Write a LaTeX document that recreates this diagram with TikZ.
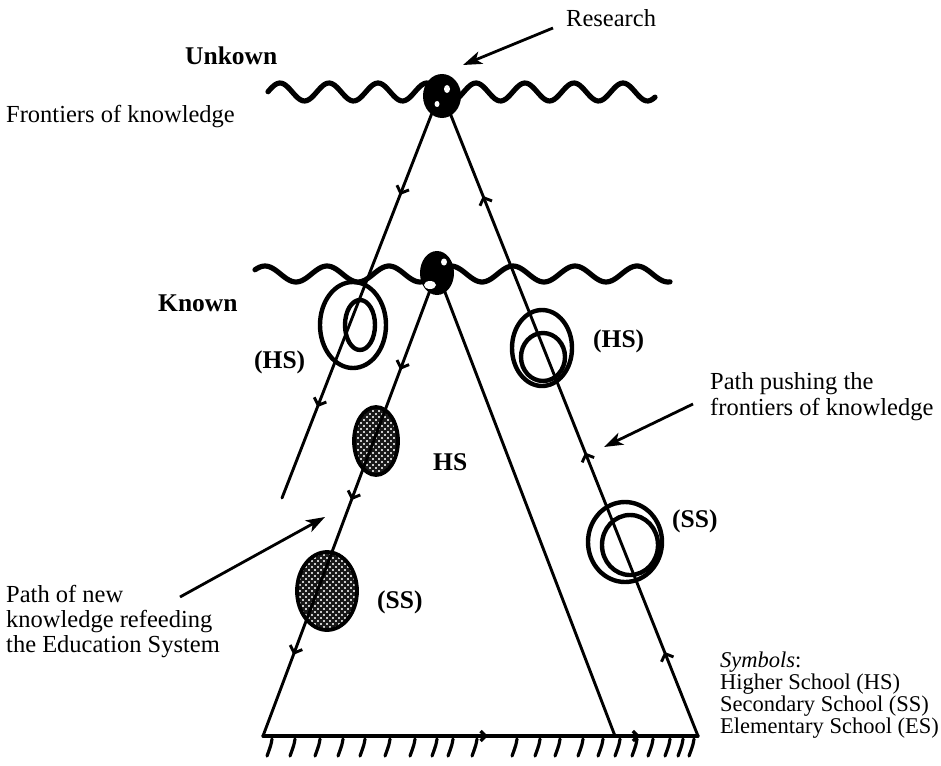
\documentclass[tikz,border=0pt]{standalone}
\usepackage{fontspec}
\setmainfont{Liberation Serif}
\usetikzlibrary{arrows.meta,decorations.markings}

\tikzset{
  lbl/.style={anchor=base west, inner sep=0pt, font=\fontsize{24.5}{24.5}\selectfont},
  slbl/.style={anchor=base west, inner sep=0pt, font=\fontsize{22.5}{22.5}\selectfont},
  blbl/.style={anchor=base west, inner sep=0pt, font=\fontsize{25.5}{25.5}\selectfont\bfseries},
  pathline/.style={line width=2.9pt, line cap=round},
  wave/.style={line width=5.2pt, line cap=round, line join=round},
  ring/.style={line width=4.4pt},
  callout/.style={line width=2.8pt, -{Stealth[length=19pt,width=13pt,inset=5pt]}},
  hatchstroke/.style={line width=3.2pt, line cap=round},
}

\newcommand\meshell[4]{%
  \begin{scope}
    \clip (#1,#2) ellipse [x radius=#3, y radius=#4];
    \fill[white] (#1,#2) ellipse [x radius=#3, y radius=#4];
    \foreach \k in {-102,-96,...,102} {
      \draw[black!90, line width=2.3pt] ({#1+\k-60},{#2-60}) -- ++(120,120);
      \draw[black!90, line width=2.3pt] ({#1+\k-60},{#2+60}) -- ++(120,-120);
    }
  \end{scope}
  \draw[line width=3.8pt] (#1,#2) ellipse [x radius=#3, y radius=#4];
}

\begin{document}
\begin{tikzpicture}[x=1pt,y=-1pt]
\useasboundingbox (0,0) rectangle (941,765);

% named points
\coordinate (R) at (442,96);
\coordinate (K) at (437,273);
\coordinate (olTop) at (432,113);
\coordinate (olEnd) at (282,498);
\coordinate (ilTop) at (432,285);
\coordinate (BL) at (263,736);
\coordinate (orTop) at (450,113);
\coordinate (BR) at (698,736);
\coordinate (irTop) at (443,287);
\coordinate (BM) at (615,736);

% wavy frontier lines
\draw[wave] plot[domain=268:655, samples=170] (\x, {92 - 9*sin((\x-280)/49*360 + 90)});
\draw[wave] plot[domain=255:670, samples=170] (\x, {274 - 8*sin((\x-265)/62*360 + 90)});

% hatched ellipses (Higher / Secondary school on the refeeding path)
\meshell{376}{441}{22}{34}
\meshell{327}{591}{30}{39}

% outer left path (downwards)
\draw[pathline, postaction={decorate}, decoration={markings,
    mark=at position 0.213 with {\arrow{Straight Barb[length=6pt,width=13pt]}},
    mark=at position 0.764 with {\arrow{Straight Barb[length=6pt,width=13pt]}}}]
  (olTop) -- (olEnd);
% inner left path (downwards)
\draw[pathline, postaction={decorate}, decoration={markings,
    mark=at position 0.188 with {\arrow{Straight Barb[length=6pt,width=13pt]}},
    mark=at position 0.477 with {\arrow{Straight Barb[length=6pt,width=13pt]}},
    mark=at position 0.82 with {\arrow{Straight Barb[length=6pt,width=13pt]}}}]
  (ilTop) -- (BL);
% outer right path (upwards)
\draw[pathline, postaction={decorate}, decoration={markings,
    mark=at position 0.135 with {\arrow{Straight Barb[length=6pt,width=13pt]}},
    mark=at position 0.455 with {\arrow{Straight Barb[length=6pt,width=13pt]}},
    mark=at position 0.867 with {\arrow{Straight Barb[length=6pt,width=13pt]}}}]
  (BR) -- (orTop);
% inner right side
\draw[pathline] (irTop) -- (BM);
% base
\draw[line width=3.3pt, line cap=round, postaction={decorate}, decoration={markings,
    mark=at position 0.517 with {\arrow{Straight Barb[length=5pt,width=10pt]}},
    mark=at position 0.867 with {\arrow{Straight Barb[length=5pt,width=10pt]}}}]
  (BL) -- (BR);
% ground hatching
\foreach \hx in {272,295,320,343,365,390,415,437,453,477,517,540,560,583,603,620,637,653,670,683,694}
  \draw[hatchstroke] (\hx,739) .. controls (\hx-1,745) .. (\hx-5,756);

% double rings (open circles)
\draw[ring] (353,325) ellipse [x radius=33, y radius=43];
\draw[ring] (360,325) ellipse [x radius=15, y radius=25];
\draw[ring] (542,348) ellipse [x radius=30, y radius=38];
\draw[ring] (543,357) ellipse [x radius=22, y radius=24];
\draw[ring] (625,542) ellipse [x radius=37, y radius=40];
\draw[ring] (630,545) ellipse [x radius=28, y radius=30];

% research spot and known spot
\fill (R) ellipse [x radius=19, y radius=22];
\fill[white] (447,89) ellipse [x radius=3, y radius=4];
\fill[white] (437,104) ellipse [x radius=2.5, y radius=3];
\fill (K) ellipse [x radius=17, y radius=22];
\fill[white] (444,262) ellipse [x radius=3, y radius=3.5];
\fill[white] (430,285) ellipse [x radius=6, y radius=4];

% labels
\node[lbl]  (tRes)  at (566,27)  {Research};
\node[blbl] (tUnk)  at (185,65)  {Unkown};
\node[lbl]  (tFro)  at (6,122)   {Frontiers of knowledge};
\node[blbl] (tKno)  at (158,311) {Known};
\node[blbl] (tHS1)  at (254,368) {(HS)};
\node[blbl] (tHS2)  at (593,347) {(HS)};
\node[lbl]  (tPp1)  at (710,389) {Path pushing the};
\node[lbl]  (tPp2)  at (710,415) {frontiers of knowledge};
\node[blbl] (tHS3)  at (433,470) {HS};
\node[blbl] (tSS1)  at (672,527) {(SS)};
\node[lbl]  (tPn1)  at (6,602)   {Path of new};
\node[lbl]  (tPn2)  at (6,627)   {knowledge refeeding};
\node[lbl]  (tPn3)  at (6,652)   {the Education System};
\node[blbl] (tSS2)  at (377,608) {(SS)};
\node[slbl] (tSym)  at (720,667) {\textit{Symbols}:};
\node[slbl] (tSy1)  at (720,689) {Higher School (HS)};
\node[slbl] (tSy2)  at (720,711) {Secondary School (SS)};
\node[slbl] (tSy3)  at (720,733) {Elementary School (ES)};

% callout arrows
\coordinate (cRa) at (553,28);  \coordinate (cRb) at (463,65);
\coordinate (cPa) at (693,404); \coordinate (cPb) at (604,447);
\coordinate (cNa) at (180,597); \coordinate (cNb) at (325,517);
\draw[callout] (cRa) -- (cRb);
\draw[callout] (cPa) -- (cPb);
\draw[callout] (cNa) -- (cNb);
\end{tikzpicture}
\end{document}
